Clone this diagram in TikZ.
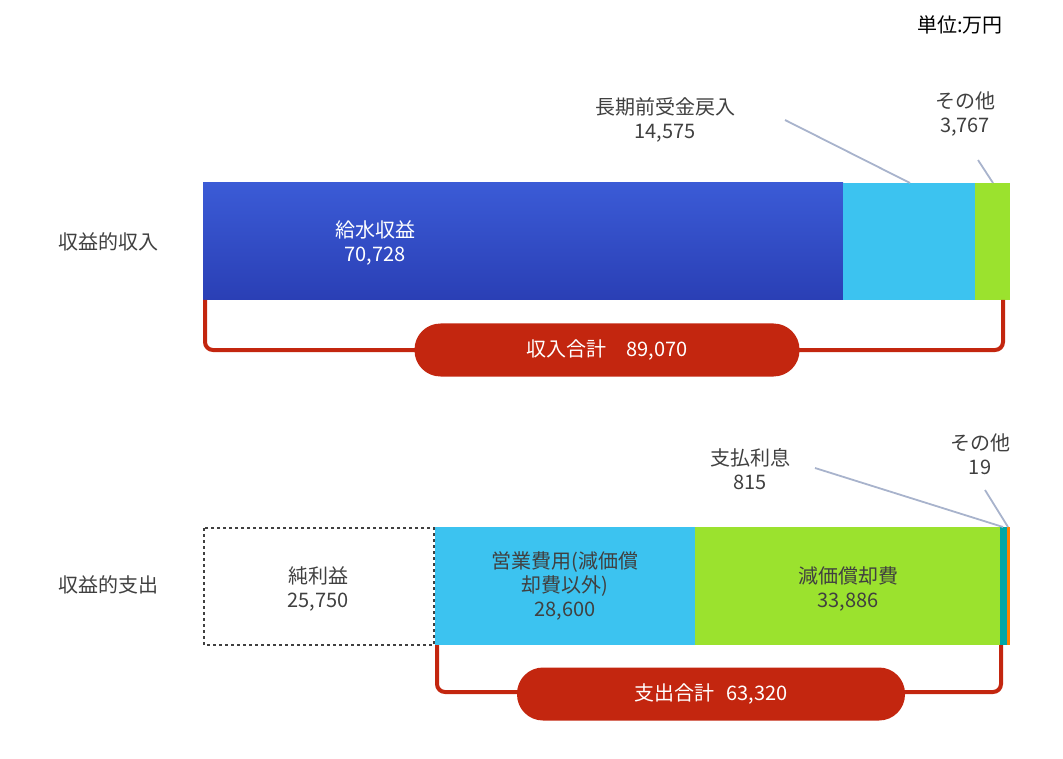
\documentclass[tikz,border=0pt]{standalone}
\usepackage{fontspec}
\setmainfont{Noto Sans CJK JP}
\definecolor{tx}{HTML}{404040}
\definecolor{bl1}{HTML}{3B5BD6}
\definecolor{bl2}{HTML}{2A3FB5}
\definecolor{cy}{HTML}{3CC3F0}
\definecolor{gr}{HTML}{9BE22E}
\definecolor{rd}{HTML}{C3260F}
\definecolor{ld}{HTML}{A8B3CC}
\begin{document}
\begin{tikzpicture}[x=1pt,y=-1pt,
  lab/.style={font=\fontsize{20}{24}\selectfont,text=tx,align=center},
  pill/.style={fill=rd,rounded corners=26pt,text=white,font=\fontsize{20}{24}\selectfont},
  brk/.style={draw=rd,line width=4pt,rounded corners=8pt},
  lead/.style={draw=ld,line width=1.8pt}]
\useasboundingbox (0,0) rectangle (1063,759);
% top bar
\fill[top color=bl1,bottom color=bl2] (203,183) rectangle (843,300);
\fill[cy] (843,183) rectangle (975,300);
\fill[gr] (975,183) rectangle (1010,300);
\draw[brk] (205,300) -- (205,350) -- (1003,350) -- (1003,300);
\node[pill,minimum width=385pt,minimum height=53pt] (p1) at (607,350) {収入合計\hspace{1em}89,070};
% bottom bar
\draw[dashed,line width=2.5pt,draw=tx] (204,528) rectangle (434,645);
\fill[cy] (435,527) rectangle (695,645);
\fill[gr] (695,527) rectangle (1000,645);
\fill[teal!70!cyan] (1000,527) rectangle (1007,645);
\fill[orange] (1007,527) rectangle (1010,645);
\draw[brk] (437,645) -- (437,692) -- (1001,692) -- (1001,645);
\node[pill,minimum width=388pt,minimum height=53pt] (p2) at (711,694) {支出合計\hspace{0.6em}63,320};
% leaders
\coordinate (a1) at (785,120); \coordinate (a2) at (910,183);
\coordinate (b1) at (978,160); \coordinate (b2) at (993,183);
\coordinate (c1) at (815,468); \coordinate (c2) at (1003,527);
\coordinate (d1) at (985,490); \coordinate (d2) at (1008,527);
\draw[lead] (a1)--(a2); \draw[lead] (b1)--(b2);
\draw[lead] (c1)--(c2); \draw[lead] (d1)--(d2);
% labels
\node[lab,text=black] (u) at (960,25) {単位:万円};
\node[lab] (l1) at (665,120) {長期前受金戻入\\14,575};
\node[lab] (l2) at (965,114) {その他\\3,767};
\node[lab,text=white] (l3) at (375,243) {給水収益\\70,728};
\node[lab] (l4) at (108,242) {収益的収入};
\node[lab] (l5) at (108,585) {収益的支出};
\node[lab] (l6) at (750,469) {支払利息\\815};
\node[lab] (l7) at (980,454) {その他\\19};
\node[lab] (l8) at (318,589) {純利益\\25,750};
\node[lab] (l9) at (565,586) {営業費用(減価償\\却費以外)\\28,600};
\node[lab] (l10) at (848,589) {減価償却費\\33,886};
\end{tikzpicture}
\end{document}
